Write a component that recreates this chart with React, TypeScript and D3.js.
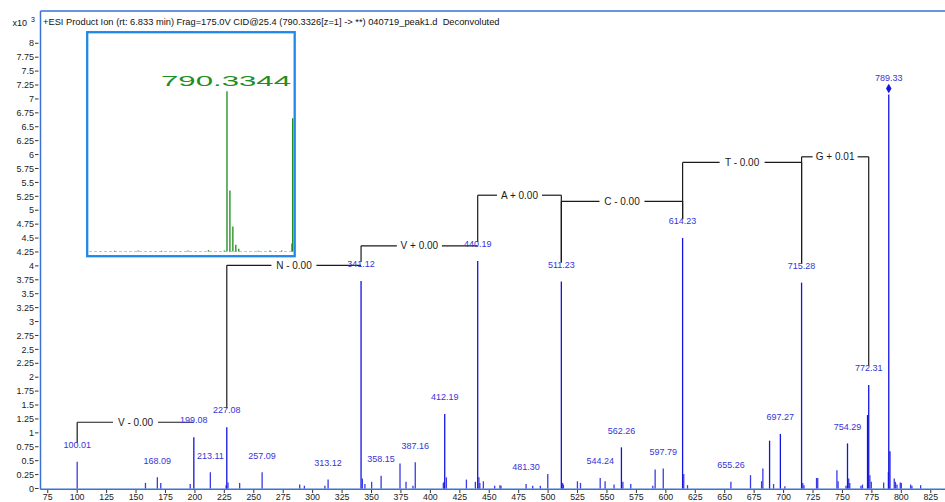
import React from 'react';
import * as d3 from 'd3';

const width = 945;
const height = 502;
const frame = { left: 40.5, right: 945, top: 11, bottom: 488.5 };

// spectrum peaks, m/z and counts (x10^3)
const peakMz = [
  100.01, 158, 168.09, 171, 196, 199.08, 213.11, 226.5, 227.08, 228.1, 238, 257.09,
  289, 293, 310.4, 313.12, 341.12, 342.2, 344.4, 350.1, 358.15, 374.2, 379.3, 385.2,
  387.16, 411.0, 411.6, 412.19, 413.6, 430.6, 438.2, 440.19, 441.2, 442, 445, 454.6,
  459.1, 460, 481.3, 486.9, 493.4, 499.7, 511.23, 512.3, 513, 524.9, 527.5, 544.24,
  548.4, 556, 562.26, 563.5, 570.2, 588.9, 590.9, 597.79, 614.23, 615.2, 618.4, 655.26,
  671.9, 681.3, 682.4, 688.1, 691.5, 697.27, 701.1, 715.28, 716.3, 717.3, 728, 729,
  745.3, 746.3, 753, 754.29, 755.3, 756.2, 765.7, 767, 771.3, 772.31, 773.3, 774.5,
  785, 789, 789.33, 790.33, 794, 795, 796.3, 799.1, 800, 807.9, 809, 816.4,
];
const peakInt = [
  0.48, 0.1, 0.2, 0.1, 0.08, 0.92, 0.29, 0.06, 1.1, 0.11, 0.1, 0.29,
  0.07, 0.05, 0.05, 0.16, 3.73, 0.18, 0.08, 0.12, 0.23, 0.45, 0.12, 0.05,
  0.47, 0.1, 0.12, 1.34, 0.2, 0.16, 0.12, 4.09, 0.2, 0.1, 0.13, 0.05,
  0.06, 0.05, 0.08, 0.05, 0.05, 0.26, 3.72, 0.1, 0.07, 0.13, 0.1, 0.19,
  0.13, 0.07, 0.74, 0.12, 0.08, 0.05, 0.34, 0.36, 4.5, 0.26, 0.06, 0.12,
  0.24, 0.13, 0.36, 0.86, 0.08, 0.98, 0.04, 3.7, 0.1, 0.06, 0.19, 0.19,
  0.33, 0.13, 0.05, 0.81, 0.18, 0.1, 0.05, 0.07, 1.32, 1.86, 0.24, 0.12,
  0.11, 0.3, 7.08, 0.67, 0.18, 0.12, 0.07, 0.11, 0.1, 0.07, 0.05, 0.06,
];
const labelledMz = [
  100.01, 168.09, 199.08, 213.11, 227.08, 257.09, 313.12, 341.12, 358.15, 387.16,
  412.19, 440.19, 481.3, 511.23, 544.24, 562.26, 597.79, 614.23, 655.26, 697.27,
  715.28, 754.29, 772.31, 789.33,
];
const precursorMz = 789.33;

// sequence ladder
const seqResidue = ['V - 0.00', 'N - 0.00', 'V + 0.00', 'A + 0.00', 'C - 0.00', 'T - 0.00', 'G + 0.01'];
const seqFrom = [100.01, 227.08, 341.12, 440.19, 511.23, 614.23, 715.28];
const seqTo = [199.08, 341.12, 440.19, 511.23, 614.23, 715.28, 772.31];
const seqLevel = [1.19, 4.01, 4.36, 5.27, 5.16, 5.86, 5.96];

// isotope inset
const insetMz = [752, 760, 768, 777, 784, 789.4, 790.33, 791.33, 792.34, 793.34, 794.34, 801, 805, 809, 812.5, 812.75];
const insetInt = [0.03, 0.04, 0.03, 0.04, 0.06, 0.05, 7.12, 2.71, 1.11, 0.3, 0.12, 0.03, 0.04, 0.05, 0.36, 5.92];
const insetLabel = '790.3344';

const xTicks = [
  75, 100, 125, 150, 175, 200, 225, 250, 275, 300, 325, 350, 375, 400, 425, 450, 475,
  500, 525, 550, 575, 600, 625, 650, 675, 700, 725, 750, 775, 800, 825,
];
const yTicks = [
  0, 0.25, 0.5, 0.75, 1, 1.25, 1.5, 1.75, 2, 2.25, 2.5, 2.75, 3, 3.25, 3.5, 3.75, 4,
  4.25, 4.5, 4.75, 5, 5.25, 5.5, 5.75, 6, 6.25, 6.5, 6.75, 7, 7.25, 7.5, 7.75, 8,
];

const title = '+ESI Product Ion (rt: 6.833 min) Frag=175.0V CID@25.4 (790.3326[z=1] -> **) 040719_peak1.d\u00a0\u00a0Deconvoluted';

const font = 'Liberation Sans, Arial, sans-serif';

export default function App() {
  const x = d3.scaleLinear().domain([68.85, 837.1]).range([frame.left, frame.right]);
  const y = d3.scaleLinear().domain([0, 8.58]).range([frame.bottom, frame.top]);

  const ix = d3.scaleLinear().domain([742.9, 813.2]).range([88, 294]);
  const iy = d3.scaleLinear().domain([0, 8]).range([251.5, 71.5]);

  const intOf = (m) => peakInt[peakMz.indexOf(m)];
  const labelY = (m) => y(intOf(m)) - 17;

  const diamond = d3.symbol(d3.symbolDiamond, 26)();

  return (
    <svg width={width} height={height} style={{ position: 'absolute', left: 0, top: 0, background: '#fff' }}>
      <rect x={0} y={0} width={width} height={height} fill="#fff" />

      {/* frame */}
      <line x1={frame.left} x2={frame.right} y1={frame.top} y2={frame.top} stroke="#3a73d3" strokeWidth={1.5} />
      <line x1={frame.left} x2={frame.left} y1={frame.top} y2={frame.bottom + 1} stroke="#3a73d3" strokeWidth={1.5} />
      <line x1={frame.left} x2={frame.right} y1={frame.bottom + 0.8} y2={frame.bottom + 0.8} stroke="#3a73d3" strokeWidth={1.5} />

      <text x={43} y={24.5} fontFamily={font} fontSize={9.3} fill="#111">{title}</text>
      <text x={12.5} y={26} fontFamily={font} fontSize={9} fill="#111">x10</text>
      <text x={31} y={22} fontFamily={font} fontSize={7} fill="#111">3</text>

      {/* y axis */}
      {yTicks.map((t) => (
        <g key={'y' + t}>
          <line x1={35} x2={38.5} y1={y(t)} y2={y(t)} stroke="#333" strokeWidth={1} />
          <text x={34} y={y(t) + 3.2} textAnchor="end" fontFamily={font} fontSize={9} fill="#222">{String(t)}</text>
        </g>
      ))}

      {/* x axis */}
      {xTicks.map((t) => (
        <g key={'x' + t}>
          <line x1={x(t)} x2={x(t)} y1={frame.bottom + 1.5} y2={frame.bottom + 4.5} stroke="#333" strokeWidth={1} />
          <text x={x(t)} y={500} textAnchor="middle" fontFamily={font} fontSize={8.8} fill="#222">{String(t)}</text>
        </g>
      ))}

      {/* peaks */}
      {peakMz.map((m, i) => (
        <line key={'p' + i} x1={x(m)} x2={x(m)} y1={y(0)} y2={y(peakInt[i])}
          stroke={peakInt[i] > 0.5 ? '#1414e0' : '#3a3ae6'} strokeWidth={1.3} />
      ))}

      {/* sequence ladder */}
      {seqResidue.map((r, i) => {
        const x0 = x(seqFrom[i]);
        const x1 = x(seqTo[i]);
        const ly = y(seqLevel[i]);
        const mid = (x0 + x1) / 2;
        const gap = 22.5;
        const b0 = labelY(seqFrom[i]) - 2;
        const b1 = labelY(seqTo[i]) - 2;
        return (
          <g key={'s' + i} stroke="#1a1a1a" strokeWidth={1.2} fill="none">
            {b0 > ly && <line x1={x0} x2={x0} y1={ly} y2={b0} />}
            {b1 > ly && <line x1={x1} x2={x1} y1={ly} y2={b1} />}
            <line x1={x0} x2={mid - gap} y1={ly} y2={ly} />
            <line x1={mid + gap} x2={x1} y1={ly} y2={ly} />
            <text x={mid} y={ly + 3.6} textAnchor="middle" fontFamily={font} fontSize={10}
              fill="#1a1a1a" stroke="none">{r}</text>
          </g>
        );
      })}

      {/* peak labels */}
      {labelledMz.map((m) => (
        <text key={'l' + m} x={x(m)} y={labelY(m) + 3.2} textAnchor="middle" fontFamily={font}
          fontSize={9} fill="#3535d8">{m.toFixed(2)}</text>
      ))}
      <path d={diamond} transform={`translate(${x(precursorMz)},${y(intOf(precursorMz)) - 6})`} fill="#1414e0" />

      {/* inset */}
      <rect x={87.2} y={32.2} width={207.5} height={224} fill="#fff" stroke="#1f88e8" strokeWidth={2.3} />
      <line x1={89} x2={293} y1={iy(0)} y2={iy(0)} stroke="#9cc79c" strokeWidth={0.8} strokeDasharray="3 2" />
      {insetMz.map((m, i) => (
        <line key={'i' + i} x1={ix(m)} x2={ix(m)} y1={iy(0)} y2={iy(insetInt[i])}
          stroke="#1a8a1a" strokeWidth={1.3} />
      ))}
      <text x={161} y={86} fontFamily={font} fontSize={14} fill="#1f8f1f"
        textLength={130} lengthAdjust="spacingAndGlyphs">{insetLabel}</text>
    </svg>
  );
}
